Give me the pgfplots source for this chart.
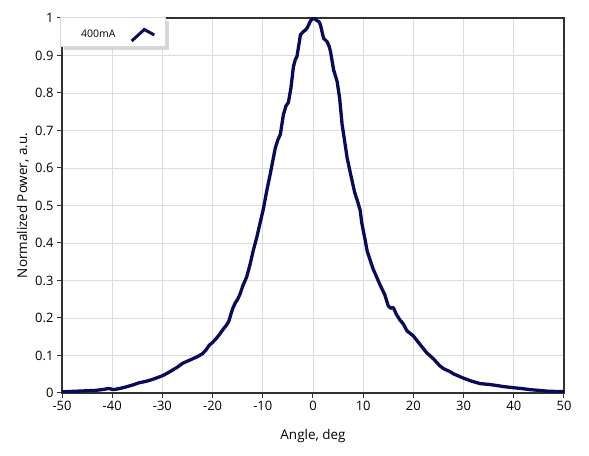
\documentclass[border=0pt]{standalone}
\usepackage{pgfplots}
\pgfplotsset{compat=1.18}
\usepackage{fontspec}
\setmainfont{Open Sans}
\usetikzlibrary{shadows,calc}
\definecolor{curve}{RGB}{10,10,90}
\definecolor{gridc}{RGB}{220,220,220}
\definecolor{axc}{RGB}{50,50,50}
\begin{document}
\begin{tikzpicture}
\useasboundingbox (0,0) rectangle (589bp,456bp);
\begin{axis}[
  name=ax,
  at={(62bp,63bp)}, anchor=south west,
  scale only axis, width=502bp, height=375bp,
  xmin=-50, xmax=50, ymin=0, ymax=1,
  xtick={-50,-40,-30,-20,-10,0,10,20,30,40,50},
  ytick={0,0.1,0.2,0.3,0.4,0.5,0.6,0.7,0.8,0.9,1},
  yticklabels={0,0.1,0.2,0.3,0.4,0.5,0.6,0.7,0.8,0.9,1},
  /pgf/number format/assume math mode=true,
  grid=major, grid style={gridc, line width=0.9bp},
  axis line style={axc, line width=1.2bp},
  tick style={axc, line width=1bp},
  tick align=outside, major tick length=5bp,
  xtick pos=bottom, ytick pos=left,
  tick label style={font=\fontsize{13}{15}\selectfont},
  label style={font=\fontsize{13.5}{16}\selectfont},
  xlabel={Angle, deg},
  ylabel={Normalized Power, a.u.},
  xlabel style={at={(axis description cs:0.5,-0.1227)}, anchor=base},
  ylabel style={at={(axis description cs:-0.0697,0.5)}, anchor=base},
]
\addplot[curve, line width=3.3bp, line join=round] coordinates {
(-50,0.003) (-48.5,0.004) (-46.7,0.005) (-45,0.006) (-43.3,0.007) (-42,0.009)
(-40.7,0.012) (-39.7,0.009) (-38.5,0.012) (-37.3,0.016) (-36,0.021) (-34.7,0.027)
(-33.3,0.031) (-32,0.036) (-31,0.041) (-30,0.046) (-29,0.053) (-28,0.061)
(-27,0.069) (-26,0.079) (-25,0.085) (-24,0.091) (-23,0.097) (-22,0.105)
(-21.3,0.115) (-20.7,0.127) (-20,0.135) (-19.3,0.145) (-18.7,0.155) (-18,0.168)
(-17.3,0.18) (-16.8,0.19) (-16.4,0.208) (-16.0,0.225) (-15.5,0.24) (-15,0.25)
(-14.5,0.265) (-14.0,0.285) (-13.2,0.31) (-12.5,0.345) (-11.9,0.38) (-11.2,0.415)
(-10.6,0.45) (-9.9,0.49) (-9.2,0.54) (-8.5,0.585) (-8.0,0.62) (-7.5,0.654)
(-7.0,0.675) (-6.5,0.69) (-5.9,0.742) (-5.4,0.765) (-4.9,0.775) (-4.4,0.813)
(-3.9,0.87) (-3.5,0.89) (-3.2,0.897) (-2.8,0.93) (-2.5,0.955) (-1.9,0.964)
(-1.5,0.968) (-1.1,0.975) (-0.5,0.992) (0,1.0) (0.4,0.997) (0.8,0.993)
(1.2,0.99) (1.5,0.981) (2.1,0.946) (2.8,0.937) (3.2,0.925) (3.5,0.91)
(4.1,0.862) (4.8,0.831) (5.3,0.787) (5.8,0.716) (6.3,0.672) (6.8,0.627)
(7.5,0.583) (8.3,0.535) (8.9,0.51) (9.4,0.487) (9.7,0.455) (10.4,0.407)
(10.8,0.378) (11.4,0.354) (12.0,0.33) (12.4,0.318) (13.3,0.29) (14.3,0.262)
(15.0,0.232) (15.5,0.226) (16.0,0.228) (16.6,0.21) (17.3,0.195) (18.0,0.184)
(18.7,0.166) (20.0,0.152) (20.7,0.14) (22.0,0.118) (22.6,0.108) (24.0,0.091)
(25.3,0.072) (26.0,0.065) (27.3,0.057) (28,0.051) (29.9,0.04) (31.5,0.032)
(33.3,0.025) (35,0.023) (36.6,0.02) (38,0.017) (40,0.014) (41.5,0.012)
(43.2,0.009) (45,0.007) (46.6,0.005) (48.5,0.004) (50,0.004)
};
\end{axis}
% legend
\node[draw=gray!30, fill=white, line width=0.8bp,
      drop shadow={shadow xshift=3.5bp, shadow yshift=-3.5bp, fill=gray!40, opacity=0.8},
      anchor=north west, minimum width=105bp, minimum height=29bp, inner sep=0pt]
  (lg) at ($(ax.north west)+(-2bp,1bp)$) {};
\node[anchor=base west, inner sep=0pt, font=\fontsize{10.5}{12}\selectfont]
  at ($(lg.north west)+(21bp,-21bp)$) {400mA};
\draw[curve, line width=3bp, line join=miter]
  ($(lg.north west)+(71.7bp,-24bp)$) -- ($(lg.north west)+(84.3bp,-12.5bp)$) -- ($(lg.north west)+(94.3bp,-18bp)$);
\end{tikzpicture}
\end{document}
